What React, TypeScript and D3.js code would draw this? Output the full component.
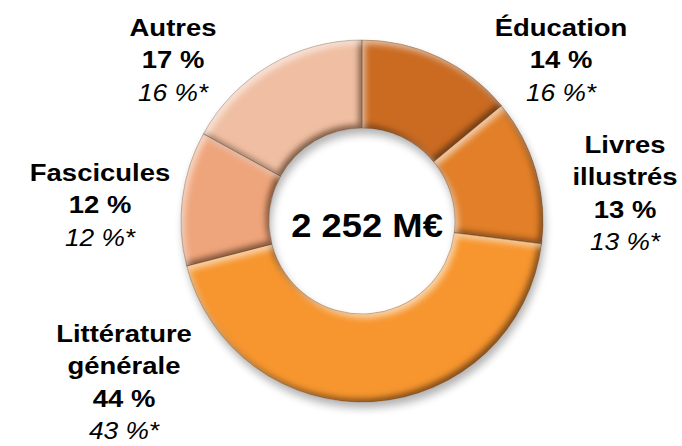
import React from "react";
import * as d3 from "d3";

const categories = ["Éducation", "Livres illustrés", "Littérature générale", "Fascicules", "Autres"];
const shares = [14, 13, 44, 12, 17];
const sharesPrev = [16, 13, 43, 12, 16];
const colors = ["#CB6B22", "#E27F28", "#F7962F", "#EFA57C", "#F0BFA3"];
const totalLabel = "2 252 M€";

// label blocks: name lines, anchor x, first baseline
const labelLines = [["Éducation"], ["Livres", "illustrés"], ["Littérature", "générale"], ["Fascicules"], ["Autres"]];
const labelPos = [
  { x: 561, y: 36 },
  { x: 625, y: 153 },
  { x: 124, y: 342 },
  { x: 100, y: 181 },
  { x: 173, y: 36 },
];

export default function App() {
  const width = 682;
  const height = 446;
  const cx = 362;
  const cy = 221;
  const outer = 181;
  const inner = 93;
  const lineH = 32.5;
  const stretch = 1.12;

  const pie = d3.pie<number>().sort(null).value((d) => d);
  const arcs = pie(shares);
  const arc = d3.arc<d3.PieArcDatum<number>>().innerRadius(inner).outerRadius(outer);
  const ring = d3.arc()({ innerRadius: inner, outerRadius: outer, startAngle: 0, endAngle: 2 * Math.PI }) as string;

  return (
    <svg width={width} height={height} style={{ position: "absolute", left: 0, top: 0, background: "#fff" }}>
      <defs>
        <filter id="shadow" x="-20%" y="-20%" width="140%" height="140%">
          <feGaussianBlur stdDeviation="4" />
        </filter>
        <filter id="bevel" x="-10%" y="-10%" width="120%" height="120%" colorInterpolationFilters="sRGB">
          <feGaussianBlur in="SourceAlpha" stdDeviation="3" result="blur" />
          <feOffset in="blur" dx="-3" dy="-3.5" result="offDark" />
          <feComposite in="SourceAlpha" in2="offDark" operator="arithmetic" k1="0" k2="1" k3="-1" k4="0" result="darkA" />
          <feFlood floodColor="#3a1f0a" floodOpacity="0.65" />
          <feComposite in2="darkA" operator="in" result="dark" />
          <feOffset in="blur" dx="3" dy="3.5" result="offLight" />
          <feComposite in="SourceAlpha" in2="offLight" operator="arithmetic" k1="0" k2="1" k3="-1" k4="0" result="lightA" />
          <feFlood floodColor="#ffffff" floodOpacity="0.6" />
          <feComposite in2="lightA" operator="in" result="light" />
          <feMerge>
            <feMergeNode in="SourceGraphic" />
            <feMergeNode in="dark" />
            <feMergeNode in="light" />
          </feMerge>
        </filter>
      </defs>
      <g transform={`translate(${cx},${cy})`}>
        <path d={ring} transform="translate(2,6)" fill="#000" opacity={0.3} filter="url(#shadow)" />
        {arcs.map((a, i) => (
          <path key={categories[i]} d={arc(a) as string} fill={colors[i]} filter="url(#bevel)" />
        ))}
        {arcs.map((a, i) => (
          <path key={"s" + i} d={arc(a) as string} fill="none" stroke="#5a3a22" strokeOpacity={0.3} strokeWidth={1} />
        ))}
      </g>
      <g fontFamily="'Liberation Sans', Arial, sans-serif" fill="#000" textAnchor="middle">
        <g transform={`translate(367,237) scale(${stretch},1)`}>
          <text fontSize={32.5} fontWeight="bold">{totalLabel}</text>
        </g>
        {categories.map((c, i) => {
          const lines = labelLines[i];
          const p = labelPos[i];
          return (
            <g key={c} transform={`translate(${p.x},${p.y}) scale(${stretch},1)`}>
              {lines.map((l, j) => (
                <text key={l} y={j * lineH} fontSize={24.5} fontWeight="bold">{l}</text>
              ))}
              <text y={lines.length * lineH} fontSize={24.5} fontWeight="bold">{`${shares[i]} %`}</text>
              <text y={(lines.length + 1) * lineH} fontSize={23.5} fontStyle="italic">{`${sharesPrev[i]} %*`}</text>
            </g>
          );
        })}
      </g>
    </svg>
  );
}
